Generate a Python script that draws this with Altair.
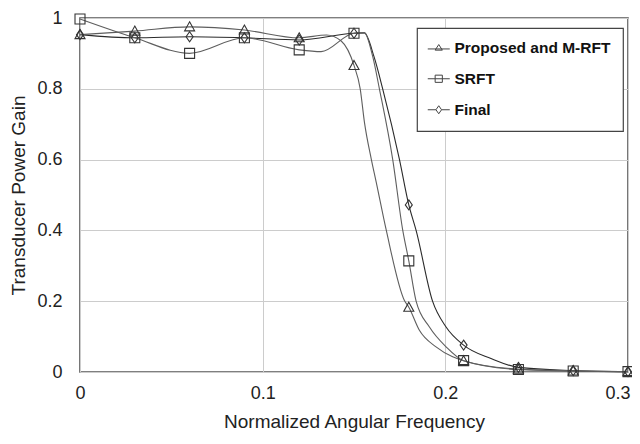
import altair as alt
import pandas as pd

series = ["Proposed and M-RFT", "SRFT", "Final"]

# marker positions (every 0.03)
marker_x = [0, 0.03, 0.06, 0.09, 0.12, 0.15, 0.18, 0.21, 0.24, 0.27, 0.30]
proposed_marker_y = [0.953, 0.963, 0.975, 0.966, 0.944, 0.866, 0.183, 0.032, 0.008, 0.003, 0.001]
srft_marker_y = [0.997, 0.944, 0.900, 0.944, 0.910, 0.957, 0.314, 0.032, 0.007, 0.003, 0.001]
final_marker_y = [0.953, 0.944, 0.947, 0.944, 0.938, 0.957, 0.472, 0.076, 0.013, 0.004, 0.001]

# additional points (between markers)
proposed_curve_x = [0.135, 0.143, 0.1534, 0.1557, 0.1594, 0.1621, 0.1676, 0.1776, 0.1858, 0.1949, 0.2040]
proposed_curve_y = [0.952, 0.935, 0.800, 0.706, 0.603, 0.538, 0.402, 0.202, 0.118, 0.071, 0.043]
srft_curve_x = [0.132, 0.1557, 0.1603, 0.1639, 0.1712, 0.1767, 0.1840, 0.1913, 0.2004]
srft_curve_y = [0.905, 0.958, 0.890, 0.800, 0.600, 0.400, 0.200, 0.127, 0.071]
final_curve_x = [0.1557, 0.1610, 0.1657, 0.1749, 0.1840, 0.1930, 0.2004, 0.2250]
final_curve_y = [0.958, 0.890, 0.800, 0.600, 0.400, 0.200, 0.127, 0.038]

x_ticks = [0, 0.1, 0.2, 0.3]
y_ticks = [0, 0.2, 0.4, 0.6, 0.8, 1.0]

marker_paths = [
    "M0,-1L1,0.8L-1,0.8Z",
    "M-1,-1L1,-1L1,1L-1,1Z",
    "M0,-1L0.7,0L0,1L-0.7,0Z",
]
legend_paths = [
    "M0,-0.8L0.9,0.6L-0.9,0.6Z" + "M-2.75,0.3L2.75,0.3",
    "M-0.9,-0.9L0.9,-0.9L0.9,0.9L-0.9,0.9Z" + "M-2.75,0L2.75,0",
    "M0,-1L0.7,0L0,1L-0.7,0Z" + "M-2.75,0L-0.7,0M0.7,0L2.75,0",
]

marker_sets = [proposed_marker_y, srft_marker_y, final_marker_y]
curve_sets = [(proposed_curve_x, proposed_curve_y), (srft_curve_x, srft_curve_y), (final_curve_x, final_curve_y)]

line_rows, point_rows = [], []
for s, my, (cx, cy) in zip(series, marker_sets, curve_sets):
    for x, y in zip(marker_x, my):
        point_rows.append({"series": s, "x": x, "y": y})
        line_rows.append({"series": s, "x": x, "y": y})
    for x, y in zip(cx, cy):
        line_rows.append({"series": s, "x": x, "y": y})
lines_df = pd.DataFrame(line_rows).sort_values(["series", "x"])
points_df = pd.DataFrame(point_rows)

FONT = "Liberation Sans"

x_enc = alt.X("x:Q", scale=alt.Scale(domain=[0, 0.3], nice=False),
              axis=alt.Axis(values=x_ticks, format="~g", title="Normalized Angular Frequency",
                            grid=True, ticks=False, tickSize=0, domain=False,
                            labelFlush=False,
                            labelAlign=alt.condition("datum.value >= 0.3", alt.value("right"), alt.value("center")),
                            labelOffset=alt.condition("datum.value >= 0.3", alt.value(2), alt.value(0)),
                            labelPadding=21, labelBaseline="middle",
                            titleY=49, titleBaseline="middle"))
y_enc = alt.Y("y:Q", scale=alt.Scale(domain=[0, 1], nice=False),
              axis=alt.Axis(values=y_ticks, format="~g", title="Transducer Power Gain",
                            grid=True, ticks=False, tickSize=0, domain=False,
                            labelFlush=False, labelPadding=18,
                            titleX=-62, titleY=177, titleAngle=270,
                            titleBaseline="middle", titleAlign="center"))

lines = alt.Chart(lines_df).mark_line(interpolate="monotone", strokeWidth=1.1).encode(
    x=x_enc, y=y_enc, detail="series:N",
    stroke=alt.Stroke("series:N", scale=alt.Scale(domain=series, range=["#5e5e5e", "#5e5e5e", "#2a2a2a"]), legend=None),
)

points = alt.Chart(points_df).mark_point(filled=False, strokeWidth=1.1, size=100, color="#333", opacity=1).encode(
    x="x:Q", y="y:Q",
    shape=alt.Shape("series:N", scale=alt.Scale(domain=series, range=marker_paths), legend=None),
)

legend_layer = alt.Chart(points_df).transform_filter("false").mark_point(
    filled=False, strokeWidth=1, size=64, color="#333", opacity=1).encode(
    x="x:Q", y="y:Q",
    shape=alt.Shape("series:N", scale=alt.Scale(domain=series, range=legend_paths),
                    legend=alt.Legend(title=None, orient="none", legendX=337, legendY=10,
                                      fillColor="white", strokeColor="#444",
                                      padding=12, rowPadding=14, symbolOffset=2, labelOffset=8,
                                      labelFontSize=15.5, labelFont=FONT, labelColor="#111",
                                      labelFontWeight="bold", labelLimit=300,
                                      symbolSize=64, symbolStrokeColor="#444",
                                      symbolStrokeWidth=1, symbolFillColor="transparent")),
)

chart = alt.layer(lines, points, legend_layer).resolve_scale(shape="independent").resolve_legend(shape="independent").properties(
    width=548, height=354,
    autosize=alt.AutoSizeParams(type="none"),
    padding={"left": 72, "top": 10, "right": 4, "bottom": 70},
).configure_view(stroke="#555", strokeWidth=1.6).configure_axis(
    gridColor="#cccccc", gridWidth=1,
    labelFont=FONT, labelFontSize=18, labelColor="#222",
    titleFont=FONT, titleFontSize=19, titleColor="#222", titleFontWeight="normal",
).configure_legend(strokeWidth=1.2)

chart.save("out.html", embed_options={"renderer": "svg", "actions": False})
